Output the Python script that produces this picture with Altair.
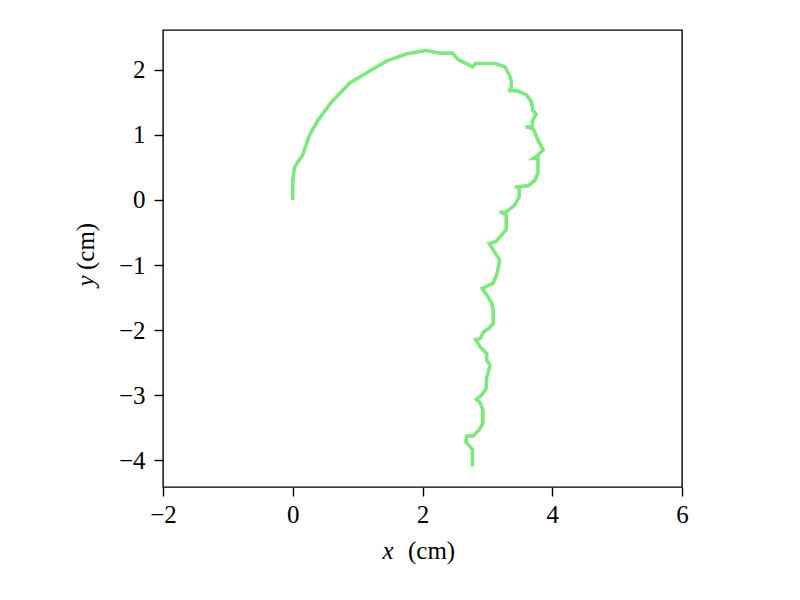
import altair as alt
import pandas as pd

xs = [0.00, 0.00, 0.03, 0.15, 0.26, 0.39, 0.60, 0.88, 1.16, 1.45, 1.76, 2.05, 2.27, 2.46,
      2.55, 2.77, 2.82, 3.12, 3.27, 3.35, 3.37, 3.37, 3.32, 3.46, 3.60, 3.68, 3.70, 3.75,
      3.70, 3.69, 3.59, 3.71, 3.78, 3.86, 3.78, 3.71, 3.78, 3.78, 3.73, 3.63, 3.42, 3.49,
      3.49, 3.42, 3.27, 3.19, 3.29, 3.29, 3.20, 3.13, 3.03, 3.09, 3.19, 3.15, 3.09, 2.99,
      2.92, 2.99, 3.07, 3.09, 3.09, 3.03, 2.94, 2.89, 2.82, 2.89, 2.99, 2.99, 3.04, 3.01,
      2.99, 2.98, 2.91, 2.83, 2.89, 2.93, 2.93, 2.87, 2.78, 2.68, 2.67, 2.77, 2.77]
ys = [0.00, 0.31, 0.51, 0.69, 1.00, 1.23, 1.51, 1.80, 1.97, 2.14, 2.25, 2.30, 2.26, 2.26,
      2.16, 2.05, 2.10, 2.10, 2.05, 1.90, 1.82, 1.70, 1.68, 1.68, 1.62, 1.51, 1.38, 1.32,
      1.23, 1.12, 1.13, 1.09, 0.92, 0.77, 0.69, 0.64, 0.64, 0.41, 0.30, 0.22, 0.20, 0.20,
      0.05, -0.08, -0.20, -0.18, -0.23, -0.46, -0.56, -0.64, -0.67, -0.77, -0.92, -1.13, -1.28, -1.33,
      -1.36, -1.46, -1.59, -1.69, -1.90, -1.97, -2.03, -2.13, -2.15, -2.26, -2.36, -2.46, -2.54, -2.67,
      -2.72, -2.90, -3.00, -3.07, -3.12, -3.23, -3.44, -3.54, -3.63, -3.63, -3.72, -3.84, -4.10]

x_ticks = [-2, 0, 2, 4, 6]
y_ticks = [-4, -3, -2, -1, 0, 1, 2]

df = pd.DataFrame({"x": xs, "y": ys, "i": list(range(len(xs)))})

FONT = "Liberation Serif"
W, H = 519, 457
FS = 25

xscale = alt.Scale(domain=[-2, 6], nice=False, zero=False)
yscale = alt.Scale(domain=[-4.415, 2.615], nice=False, zero=False)

line = alt.Chart(df).mark_line(color="#7ee87e", strokeWidth=3.6, clip=True).encode(
    x=alt.X("x:Q", scale=xscale,
            axis=alt.Axis(values=x_ticks, title=None, grid=False, domain=False,
                          tickColor="black", tickSize=9, tickWidth=1.4,
                          labelFont=FONT, labelFontSize=FS, labelColor="black",
                          labelPadding=6, labelFlush=False,
                          labelExpr="replace(datum.label, '-', '\u2212')")),
    y=alt.Y("y:Q", scale=yscale,
            axis=alt.Axis(values=y_ticks, title=None, grid=False, domain=False,
                          tickColor="black", tickSize=9, tickWidth=1.4,
                          labelFont=FONT, labelFontSize=FS, labelColor="black",
                          labelPadding=9, labelFlush=False,
                          labelExpr="replace(datum.label, '-', '\u2212')")),
    order="i:Q",
)

xl1 = alt.Chart(pd.DataFrame({"t": ["x"]})).mark_text(
    font=FONT, fontSize=FS, fontStyle="italic", align="center", baseline="middle", color="black"
).encode(text="t:N", x=alt.value(225), y=alt.value(H + 64))
xl2 = alt.Chart(pd.DataFrame({"t": ["(cm)"]})).mark_text(
    font=FONT, fontSize=FS, align="left", baseline="middle", color="black"
).encode(text="t:N", x=alt.value(245), y=alt.value(H + 64))

yl1 = alt.Chart(pd.DataFrame({"t": ["y"]})).mark_text(
    font=FONT, fontSize=FS, fontStyle="italic", align="center", baseline="middle", color="black", angle=270
).encode(text="t:N", x=alt.value(-77), y=alt.value(251))
yl2 = alt.Chart(pd.DataFrame({"t": ["(cm)"]})).mark_text(
    font=FONT, fontSize=FS, align="left", baseline="middle", color="black", angle=270
).encode(text="t:N", x=alt.value(-77), y=alt.value(240))

chart = alt.layer(line, xl1, xl2, yl1, yl2).properties(
    width=W, height=H,
    autosize=alt.AutoSizeParams(type="none"),
    padding={"left": 155, "top": 22, "right": 100, "bottom": 100},
).configure_view(stroke="black", strokeWidth=1.4)

chart.save("out.html", embed_options={"renderer": "svg", "actions": False})
